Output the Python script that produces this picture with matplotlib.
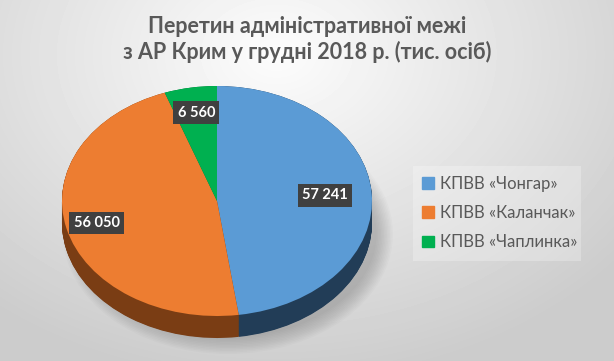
import numpy as np
import matplotlib
matplotlib.use("Agg")
from matplotlib import pyplot as plt
from matplotlib import patches

# Data
categories = ["КПВВ «Чонгар»", "КПВВ «Каланчак»", "КПВВ «Чаплинка»"]
values = [57241, 56050, 6560]
top_colors = ["#5b9bd5", "#ed7d31", "#00b050"]
side_colors = ["#223d57", "#7a3d14", "#006a2f"]
title = "Перетин адміністративної межі\nз АР Крим у грудні 2018 р. (тис. осіб)"

W, H = 614, 361
fig = plt.figure(figsize=(W / 100, H / 100), dpi=100)

# Background radial gradient
bg = fig.add_axes([0, 0, 1, 1], zorder=-10)
yy, xx = np.mgrid[0:H, 0:W]
r = np.sqrt(((xx - 0.45 * W) / (0.75 * W)) ** 2 + ((yy - 0.15 * H) / (0.95 * H)) ** 2)
shade = np.clip(0.99 - 0.2 * r, 0.8, 1.0)
bg.imshow(shade, cmap="gray", vmin=0, vmax=1, aspect="auto", extent=[0, W, H, 0])
bg.set_xlim(0, W)
bg.set_ylim(H, 0)
bg.axis("off")

# soft shadow under the pie
for k in range(12):
    bg.add_patch(patches.Ellipse((228, 234), 330 - k * 3, 240 - k * 3,
                                 color="black", alpha=0.014, lw=0))

# Legend backdrop
bg.add_patch(patches.Rectangle((413, 166), 168, 95, color="white", alpha=0.25, lw=0))

# Pie geometry (pixels)
cx, cy, a, b, depth = 217, 201, 155, 115, 22
d = depth / b
ax = fig.add_axes([(cx - a) / W, (H - (cy + b + depth)) / H,
                   2 * a / W, (2 * b + depth) / H])

# side: stacked darker pies
for off in np.linspace(-d, 0, 40):
    ax.pie(values, colors=side_colors, startangle=90, counterclock=False,
           center=(0, off), radius=1, wedgeprops=dict(linewidth=0))
wedges, _ = ax.pie(values, colors=top_colors, startangle=90, counterclock=False,
                   radius=1, wedgeprops=dict(linewidth=0))
ax.set_aspect("auto")
ax.set_xlim(-1, 1)
ax.set_ylim(-1 - d, 1)
ax.axis("off")

# value labels
dists = [0.70, 0.80, 0.78]
for w, v, dist in zip(wedges, values, dists):
    mid = np.deg2rad((w.theta1 + w.theta2) / 2)
    ax.text(dist * np.cos(mid), dist * np.sin(mid), f"{v:,}".replace(",", " "),
            ha="center", va="center", color="white", fontsize=10.5, fontweight="bold",
            family="Lato",
            bbox=dict(boxstyle="square,pad=0.3", facecolor="#404040", edgecolor="none"))

# title
fig.text(0.5, 0.89, title, ha="center", va="center", fontsize=15.5, fontweight="bold",
         color="#595959", family="Lato", linespacing=1.25)

# legend
handles = [patches.Patch(color=c) for c in top_colors]
fig.legend(handles, categories, loc="center left", bbox_to_anchor=(407 / W, 1 - 213 / H),
           frameon=False, labelcolor="#595959",
           handlelength=0.7, handleheight=0.7, handletextpad=0.35, labelspacing=0.8,
           prop={"family": "Lato", "size": 12})

fig.savefig("out.png", dpi=100)
